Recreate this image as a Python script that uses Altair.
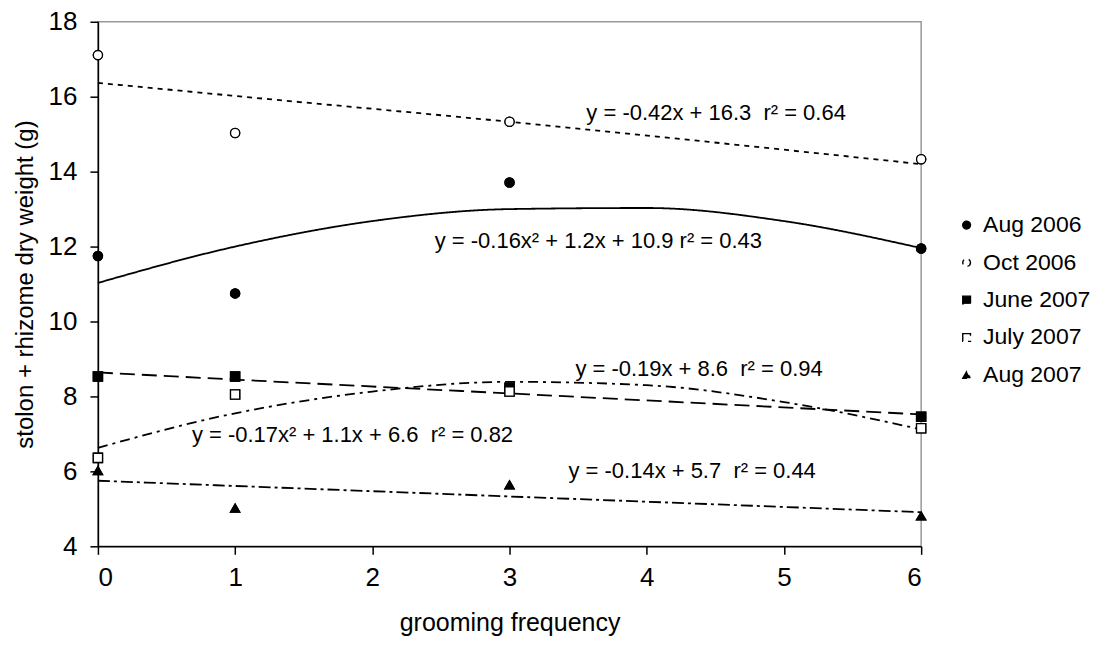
import altair as alt
import pandas as pd

# ---- data ----
series = ["Aug 2006", "Oct 2006", "June 2007", "July 2007", "Aug 2007"]
grooming = [0, 1, 3, 6]
aug2006 = [11.75, 10.75, 13.71, 11.95]
oct2006 = [17.11, 15.03, 15.33, 14.33]
jun2007 = [8.53, 8.53, 8.23, 7.46]
jul2007 = [6.36, 8.05, 8.13, 7.15]
aug2007 = [6.02, 5.02, 5.64, 4.81]

# fitted trend lines
curve_x = [0, 1, 2, 3, 4, 5, 6]
aug2006_fit = [11.03, 12.0, 12.68, 13.0, 13.03, 12.68, 11.96]
jul2007_fit = [6.63, 7.55, 8.13, 8.39, 8.3, 7.85, 7.12]
lin_x = [0, 1, 3, 6]
oct2006_fit = [16.37, 16.02, 15.33, 14.2]
jun2007_fit = [8.64, 8.45, 8.08, 7.52]
aug2007_fit = [5.75, 5.61, 5.33, 4.91]

eq_text = [
    "y = -0.42x + 16.3 \u00a0r\u00b2 = 0.64",
    "y = -0.16x\u00b2 + 1.2x + 10.9 r\u00b2 = 0.43",
    "y = -0.19x + 8.6 \u00a0r\u00b2 = 0.94",
    "y = -0.17x\u00b2 + 1.1x + 6.6 \u00a0r\u00b2 = 0.82",
    "y = -0.14x + 5.7 \u00a0r\u00b2 = 0.44",
]
eq_x = [3.56, 2.455, 3.48, 0.685, 3.43]
eq_y = [15.37, 11.95, 8.55, 6.795, 5.83]

x_ticks = [0, 1, 2, 3, 4, 5, 6]
y_ticks = [4, 6, 8, 10, 12, 14, 16, 18]

# ---- tables ----
point_values = [aug2006, oct2006, jun2007, jul2007, aug2007]
pts = pd.DataFrame(
    [{"series": s, "x": x, "y": v} for s, vals in zip(series, point_values) for x, v in zip(grooming, vals)]
)
fits = [(curve_x, aug2006_fit), (lin_x, oct2006_fit), (lin_x, jun2007_fit), (curve_x, jul2007_fit), (lin_x, aug2007_fit)]
trend = pd.DataFrame(
    [{"fit": s, "x": x, "y": v} for s, (xs, vals) in zip(series, fits) for x, v in zip(xs, vals)]
)
labels = pd.DataFrame({"text": eq_text, "x": eq_x, "y": eq_y})

FONT = "Liberation Sans"
xscale = alt.Scale(domain=[0, 6], nice=False, zero=False)
yscale = alt.Scale(domain=[4, 18], nice=False, zero=False)

x_axis = alt.Axis(values=x_ticks, format="d", title="grooming frequency", grid=False, tickSize=8,
                  labelPadding=10, titlePadding=20, labelFontSize=26, titleFontSize=25,
                  labelFont=FONT, titleFont=FONT, titleFontWeight="normal",
                  domainColor="black", tickColor="black", labelColor="black", titleColor="black",
                  domainWidth=1.5, tickWidth=1.5)
y_axis = alt.Axis(values=y_ticks, format="d", title="stolon + rhizome dry weight (g)", grid=False, tickSize=8,
                  labelPadding=13, titlePadding=11, labelFontSize=26, titleFontSize=24,
                  labelFont=FONT, titleFont=FONT, titleFontWeight="normal",
                  domainColor="black", tickColor="black", labelColor="black", titleColor="black",
                  domainWidth=1.5, tickWidth=1.5)

shape_scale = alt.Scale(domain=series, range=["circle", "circle", "square", "square", "triangle-up"])
fill_scale = alt.Scale(domain=series, range=["black", "white", "black", "white", "black"])
stroke_scale = alt.Scale(domain=series, range=["black", "black", "black", "black", "black"])
dash_scale = alt.Scale(domain=series, range=[[1, 0], [5, 5], [15, 7], [10, 5, 3, 5], [12, 4, 3, 4]])

legend = alt.Legend(title=None, orient="none", legendX=858, legendY=192, labelFontSize=23,
                    symbolSize=60, rowPadding=13.5, labelOffset=5, padding=0,
                    symbolStrokeWidth=1.4, labelFont=FONT, labelColor="black")

X = alt.X("x:Q", scale=xscale, axis=x_axis)
Y = alt.Y("y:Q", scale=yscale, axis=y_axis)

lines = alt.Chart(trend).mark_line(color="black", strokeWidth=1.8, interpolate="monotone").encode(
    x=X, y=Y,
    strokeDash=alt.StrokeDash("fit:N", scale=dash_scale, legend=None),
    detail="fit:N",
)

points = alt.Chart(pts).mark_point(filled=True, strokeWidth=1.3, size=85, opacity=1).encode(
    x=X, y=Y,
    shape=alt.Shape("series:N", scale=shape_scale, legend=legend),
    fill=alt.Fill("series:N", scale=fill_scale, legend=legend),
    stroke=alt.Stroke("series:N", scale=stroke_scale, legend=legend),
)

text = alt.Chart(labels).mark_text(align="left", baseline="alphabetic", fontSize=22, font=FONT,
                                    color="black").encode(
    x=X, y=Y,
    text="text:N",
)

# points first (legend), then trend lines, then the same points again so they sit on top
chart = alt.layer(points, lines, points, text).properties(
    width=824, height=525,
    background="white",
    autosize=alt.AutoSizeParams(type="none"),
    padding={"left": 90, "top": 13.5, "right": 170, "bottom": 90},
).resolve_legend(shape="shared", fill="shared", stroke="shared").configure_view(stroke="#999999", strokeWidth=1.5)

chart.save("out.html", embed_options={"renderer": "svg", "actions": False})
